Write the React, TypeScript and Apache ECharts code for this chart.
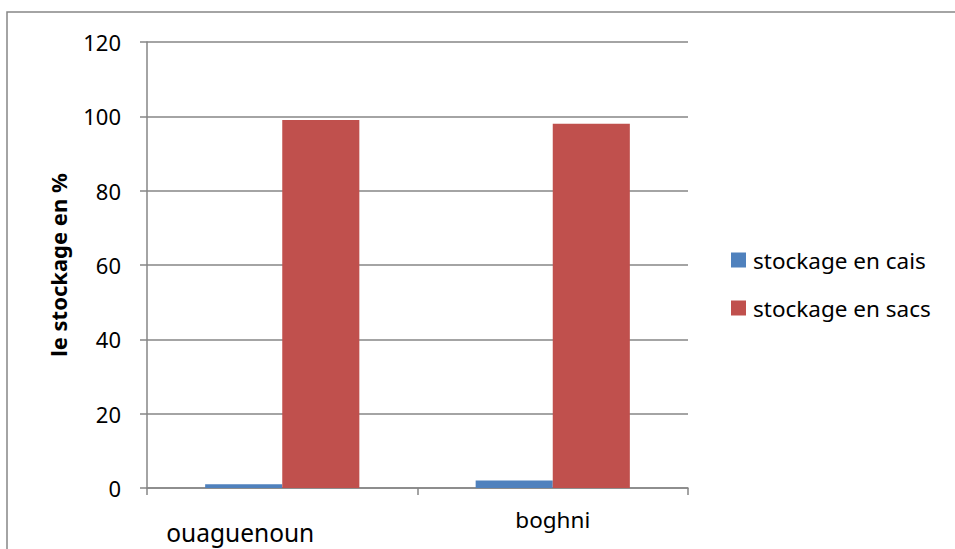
import React, { useEffect, useRef } from "react";
import * as echarts from "echarts";

// Storage method shares per locality (%)
const categories = ["ouaguenoun", "boghni"];
const seriesNames = ["stockage en cais", "stockage en sacs"];
const caisValues = [1, 2];
const sacsValues = [99, 98];
const yTicks = { min: 0, max: 120, interval: 20 };

const GRAY = "#868686";
const FONT = "'Noto Sans', 'Open Sans', sans-serif";

export default function App() {
  const ref = useRef<HTMLDivElement>(null);

  useEffect(() => {
    if (!ref.current) return;
    const chart = echarts.init(ref.current, undefined, { renderer: "svg" });
    chart.setOption({
      animation: false,
      backgroundColor: "#ffffff",
      textStyle: { fontFamily: FONT },
      graphic: [
        {
          type: "rect",
          shape: { x: 7, y: 12, width: 1000, height: 600 },
          style: { fill: "none", stroke: GRAY, lineWidth: 1.5 },
          silent: true,
        },
      ],
      grid: { left: 147, right: 267, top: 42, bottom: 61 },
      legend: {
        orient: "vertical",
        left: 731,
        top: 247,
        padding: 0,
        itemWidth: 15,
        itemHeight: 15,
        itemGap: 22,
        icon: "rect",
        textStyle: { fontFamily: FONT, fontSize: 22.5, color: "#000", lineHeight: 26, padding: [0, 0, 0, 2] },
        data: seriesNames,
      },
      xAxis: {
        type: "category",
        data: categories,
        axisLine: { lineStyle: { color: GRAY, width: 1.5 } },
        axisTick: { show: true, alignWithLabel: false, length: 7, lineStyle: { color: GRAY, width: 1.5 } },
        axisLabel: {
          margin: 20,
          interval: 0,
          formatter: (v: string) => (v === categories[0] ? `{a|${v}}` : `{b|${v}}`),
          rich: {
            a: { fontFamily: FONT, fontSize: 24.5, color: "#000", padding: [12, 84, 0, 0] },
            b: { fontFamily: FONT, fontSize: 22.5, color: "#000" },
          },
        },
      },
      yAxis: {
        type: "value",
        min: yTicks.min,
        max: yTicks.max,
        interval: yTicks.interval,
        name: "le stockage en %",
        nameLocation: "middle",
        nameGap: 78,
        nameTextStyle: { fontFamily: FONT, fontSize: 22, fontWeight: "bold", color: "#000" },
        axisLine: { show: true, lineStyle: { color: GRAY, width: 1.5 } },
        axisTick: { show: true, length: 7, lineStyle: { color: GRAY, width: 1.5 } },
        axisLabel: { margin: 26, fontFamily: FONT, fontSize: 22, color: "#000" },
        splitLine: { show: true, lineStyle: { color: GRAY, width: 1.5 } },
      },
      series: [
        {
          name: seriesNames[0],
          type: "bar",
          data: caisValues,
          itemStyle: { color: "#4F81BD" },
          barGap: "0%",
          barCategoryGap: "43%",
        },
        {
          name: seriesNames[1],
          type: "bar",
          data: sacsValues,
          itemStyle: { color: "#C0504D" },
          barGap: "0%",
          barCategoryGap: "43%",
        },
      ],
    });
    return () => chart.dispose();
  }, []);

  return (
    <div
      ref={ref}
      style={{ position: "fixed", left: 0, top: 0, width: 955, height: 549, background: "#fff" }}
    />
  );
}
